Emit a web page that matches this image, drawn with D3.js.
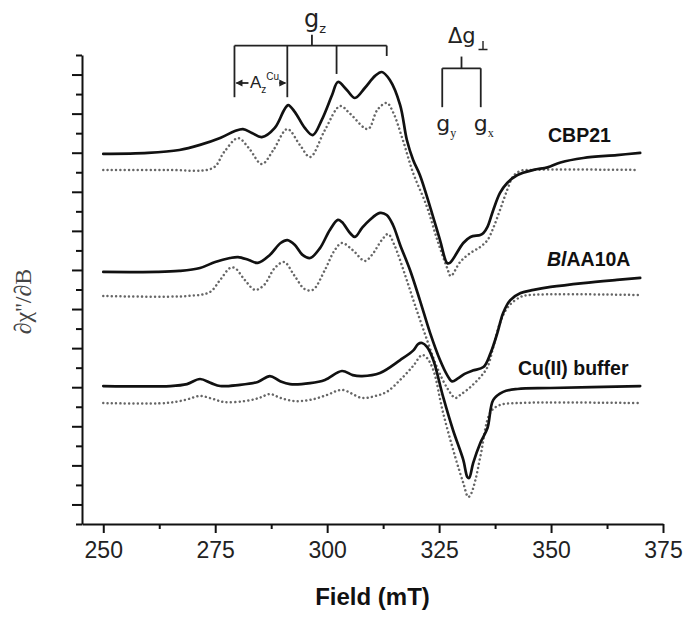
<!DOCTYPE html>
<html>
<head>
<meta charset="utf-8">
<script src="https://cdn.jsdelivr.net/npm/d3@7"></script>
<style>
  html, body { margin: 0; padding: 0; background: #fff; }
  svg { display: block; }
</style>
</head>
<body>
<svg id="chart" width="698" height="621"></svg>
<script>
// ---------- DATA (field in mT, signal in arbitrary axis units) ----------
const xTicks = [250, 275, 300, 325, 350, 375];
const xMinorTicks = [262.5, 287.5, 312.5, 337.5, 362.5];
const yTicks = d3.range(0, 25);          // 25 unlabeled ticks
const xLabel = "Field (mT)";
const yLabel = "\u2202\u03C7''/\u2202B";

const seriesLabels = ["CBP21", "BlAA10A", "Cu(II) buffer"];

const cbp21Exp = [[250,18.94],[260,18.99],[267,19.14],[271.6,19.40],[276.1,19.75],[279.4,20.11],[281.2,20.21],[283.2,20.01],[285.4,19.80],[288.3,20.27],[290.4,21.19],[291.3,21.44],[292.8,21.08],[295.0,20.27],[296.8,19.90],[298.8,20.68],[301.1,21.95],[302.4,22.62],[304.4,22.21],[306.2,21.80],[308.4,22.31],[310.7,22.93],[312.2,23.13],[314.0,22.72],[316.3,21.44],[317.8,19.65],[319.2,18.63],[320.7,17.86],[323.0,16.22],[325.2,14.53],[326.8,13.35],[327.4,13.36],[330.4,14.38],[332.0,14.69],[334.2,14.79],[334.9,14.89],[335.8,15.20],[337.1,16.07],[338.6,16.94],[340.2,17.45],[342.5,17.86],[346.1,18.12],[349.2,18.25],[352.1,18.50],[357.2,18.73],[364.7,18.88],[369.9,18.99]];
const cbp21Sim = [[250,18.12],[264,18.12],[274.5,18.22],[277.0,19.04],[280.1,19.75],[282.5,19.24],[285.4,18.42],[288.0,19.14],[291.1,20.21],[293.9,19.40],[296.2,18.78],[299.5,20.16],[302.9,21.39],[305.1,21.00],[309.1,20.21],[311.2,21.19],[313.3,21.55],[314.7,21.08],[316.9,19.65],[319.2,17.96],[322.3,16.22],[324.6,14.53],[326.8,13.10],[327.6,12.69],[329.7,13.41],[332.0,13.87],[334.2,14.18],[335.8,14.53],[337.1,15.15],[338.6,16.07],[340.2,17.09],[341.6,17.81],[343.2,18.07],[345.4,18.12],[369.4,18.12]];

const blExp = [[250,12.90],[262,12.90],[267,12.95],[271.6,13.10],[275,13.41],[278.3,13.61],[280.1,13.66],[282.5,13.51],[284.5,13.36],[287.2,13.77],[289.6,14.38],[291.1,14.53],[292.8,14.28],[294.5,13.77],[296.2,13.61],[298.4,14.12],[300.6,15.05],[302.4,15.56],[303.3,15.45],[305.1,14.89],[306.2,14.69],[307.8,15.15],[309.5,15.56],[311.8,15.92],[313.3,15.81],[314.7,15.30],[316.3,14.28],[318.5,13.00],[320.7,11.46],[323.0,9.77],[325.2,8.39],[326.8,7.62],[327.9,7.30],[329.2,7.45],[330.7,7.68],[332.5,7.85],[334.9,8.03],[336.5,8.75],[338.0,9.77],[339.3,10.80],[340.9,11.46],[343.2,11.82],[346.1,11.98],[349.9,12.13],[357.2,12.33],[364.7,12.49],[369.9,12.59]];
const blSim = [[250,11.67],[269,11.67],[273.8,11.87],[276.1,12.49],[278.3,13.10],[279.4,13.10],[281.6,12.49],[283.9,11.98],[285.9,12.23],[288.3,13.10],[290.4,13.41],[292.6,12.74],[295.0,12.02],[296.8,11.98],[299.5,13.00],[301.7,14.02],[303.3,14.38],[305.7,14.02],[308.4,13.46],[310.0,13.77],[312.2,14.53],[313.6,14.84],[315.0,14.28],[317.4,12.74],[319.6,11.21],[322.3,9.42],[324.6,7.98],[326.8,6.96],[328.6,6.45],[329.7,6.60],[332.0,7.01],[334.2,7.52],[335.8,8.03],[337.1,9.06],[338.6,10.29],[340.4,11.11],[343.2,11.62],[345.4,11.72],[369.4,11.72]];

const cuExp = [[250,7.06],[265,7.06],[268.7,7.16],[271.6,7.42],[274.1,7.21],[276.1,7.06],[280.1,7.11],[284.5,7.27],[287.2,7.57],[289.4,7.32],[291.7,7.16],[296.2,7.21],[299.5,7.37],[303.3,7.83],[305.7,7.62],[307.8,7.57],[311.8,7.73],[316.3,8.39],[319.3,8.90],[320.3,9.21],[321.2,9.26],[322.3,9.06],[323.7,8.39],[325.9,6.50],[328.1,4.81],[330.4,3.28],[331.3,2.41],[331.7,2.35],[332.6,3.12],[334.2,4.15],[335.8,4.91],[337.1,6.35],[339.3,6.76],[342.5,6.91],[349.9,6.96],[369.9,7.06]];
const cuSim = [[250,6.19],[264,6.19],[268.3,6.35],[271.6,6.55],[274.5,6.40],[277,6.24],[281.6,6.29],[284.8,6.45],[287.2,6.65],[289.6,6.45],[292.8,6.29],[296.2,6.35],[299.9,6.60],[303.3,6.86],[307.8,6.45],[310.7,6.55],[313.3,6.76],[316.3,7.37],[319.2,8.09],[321.2,8.65],[322.3,8.49],[323.7,7.88],[325.9,5.68],[328.6,3.43],[330.4,2.10],[331.5,1.38],[332.1,1.53],[333.1,2.25],[334.2,3.43],[336.5,5.73],[338.6,6.09],[342.5,6.19],[369.4,6.19]];

// annotation positions (fields in mT, heights in axis units)
const gzFields = [279.3, 291.1, 302.1, 313.3];
const gzLineEnds = [21.84, 21.84, 23.03, 23.95];
const gzBar = 24.48, gzStemTop = 25.03;
const gperpFields = [325.7, 334.3];
const gperpBar = 23.32, gperpStemTop = 23.92, gperpLineEnd = 21.33;

// ---------- SCALES ----------
const svg = d3.select("#chart");
const x = d3.scaleLinear().domain([245.25, 375]).range([82, 663]);
const y = d3.scaleLinear().domain([0, 24]).range([524, 55]);

// ---------- AXES ----------
const xAxis = svg.append("g").attr("transform", `translate(0,${y(0)})`)
  .call(d3.axisBottom(x).tickValues(xTicks).tickSize(9).tickSizeOuter(0).tickPadding(9));
xAxis.select(".domain").attr("stroke", "#111").attr("stroke-width", 2);
xAxis.selectAll(".tick line").attr("stroke", "#111").attr("stroke-width", 2);
xAxis.selectAll(".tick text").attr("font-family", "Liberation Sans, Arial, sans-serif")
  .attr("font-size", 23).attr("fill", "#222");

const xMinor = svg.append("g").attr("transform", `translate(0,${y(0)})`)
  .call(d3.axisBottom(x).tickValues(xMinorTicks).tickSize(5).tickFormat(""));
xMinor.select(".domain").remove();
xMinor.selectAll(".tick line").attr("stroke", "#111").attr("stroke-width", 2);

const yAxis = svg.append("g").attr("transform", `translate(${x.range()[0]},0)`)
  .call(d3.axisLeft(y).tickValues(yTicks).tickSizeOuter(0).tickFormat(""));
yAxis.select(".domain").attr("stroke", "#111").attr("stroke-width", 2);
yAxis.selectAll(".tick line").attr("stroke", "#111").attr("stroke-width", 2)
  .attr("x2", d => (d % 2 === 1 ? -10 : -6));

// axis titles
svg.append("text").attr("x", (x.range()[0] + x.range()[1]) / 2).attr("y", 605)
  .attr("text-anchor", "middle").attr("font-family", "Liberation Sans, Arial, sans-serif")
  .attr("font-weight", "bold").attr("font-size", 24).attr("fill", "#111").text(xLabel);

svg.append("text").attr("transform", `translate(31,${(y.range()[0] + y.range()[1]) / 2 + 12}) rotate(-90)`)
  .attr("text-anchor", "middle").attr("font-family", "Liberation Serif, Times New Roman, serif")
  .attr("font-size", 24).attr("fill", "#444").text(yLabel);

// ---------- LINES ----------
const line = d3.line().x(d => x(d[0])).y(d => y(d[1])).curve(d3.curveCatmullRom.alpha(0.5));

const sims = [cbp21Sim, blSim, cuSim];
const exps = [cbp21Exp, blExp, cuExp];

svg.append("g").selectAll("path").data(sims).join("path")
  .attr("d", line).attr("fill", "none").attr("stroke", "#666")
  .attr("stroke-width", 2.5).attr("stroke-linecap", "round").attr("stroke-dasharray", "0.01 4.3");

svg.append("g").selectAll("path").data(exps).join("path")
  .attr("d", line).attr("fill", "none").attr("stroke", "#111")
  .attr("stroke-width", 2.7).attr("stroke-linejoin", "round").attr("stroke-linecap", "round");

// ---------- SERIES LABELS ----------
const lab = svg.append("g").attr("font-family", "Liberation Sans, Arial, sans-serif")
  .attr("font-weight", "bold").attr("font-size", 19.5).attr("fill", "#111");
lab.append("text").attr("x", 548).attr("y", 142).text(seriesLabels[0]);
const bl = lab.append("text").attr("x", 547).attr("y", 266);
bl.append("tspan").attr("font-style", "italic").text(seriesLabels[1].slice(0, 2));
bl.append("tspan").text(seriesLabels[1].slice(2));
lab.append("text").attr("x", 518).attr("y", 375).text(seriesLabels[2]);

// ---------- ANNOTATIONS ----------
const ann = svg.append("g").attr("stroke", "#222").attr("stroke-width", 1.8).attr("fill", "none");
// g_z bracket
ann.append("line").attr("x1", x(gzFields[0])).attr("x2", x(gzFields[3]))
  .attr("y1", y(gzBar)).attr("y2", y(gzBar));
ann.append("line").attr("x1", x((gzFields[1] + gzFields[2]) / 2)).attr("x2", x((gzFields[1] + gzFields[2]) / 2))
  .attr("y1", y(gzBar)).attr("y2", y(gzStemTop));
gzFields.forEach((f, i) => {
  ann.append("line").attr("x1", x(f)).attr("x2", x(f)).attr("y1", y(gzBar)).attr("y2", y(gzLineEnds[i]));
});
// g_perp bracket
const gpMid = (gperpFields[0] + gperpFields[1]) / 2;
ann.append("line").attr("x1", x(gperpFields[0])).attr("x2", x(gperpFields[1]))
  .attr("y1", y(gperpBar)).attr("y2", y(gperpBar));
ann.append("line").attr("x1", x(gpMid)).attr("x2", x(gpMid)).attr("y1", y(gperpBar)).attr("y2", y(gperpStemTop));
gperpFields.forEach(f => {
  ann.append("line").attr("x1", x(f)).attr("x2", x(f)).attr("y1", y(gperpBar)).attr("y2", y(gperpLineEnd));
});
// A_z arrows
const ay = 83;
const xa0 = x(gzFields[0]), xa1 = x(gzFields[1]);
ann.append("line").attr("x1", xa0 + 2).attr("x2", xa0 + 14).attr("y1", ay).attr("y2", ay);
ann.append("line").attr("x1", xa1 - 8).attr("x2", xa1 - 2).attr("y1", ay).attr("y2", ay);
svg.append("path").attr("fill", "#222")
  .attr("d", `M${xa0 + 1},${ay} l7,-3.5 l0,7 Z M${xa1 - 1},${ay} l-7,-3.5 l0,7 Z`);

const t = svg.append("g").attr("font-family", "DejaVu Sans, sans-serif").attr("fill", "#222");
// g_z
const gz = t.append("text").attr("x", 304).attr("y", 27).attr("font-size", 24);
gz.append("tspan").text("g");
gz.append("tspan").attr("font-size", 13).attr("dy", 6).text("z");
// A_z^Cu
const az = t.append("text").attr("x", 250).attr("y", 88).attr("font-size", 17)
  .attr("font-family", "Liberation Sans, Arial, sans-serif");
az.append("tspan").text("A");
az.append("tspan").attr("font-size", 10).attr("dy", 5).text("z");
az.append("tspan").attr("font-size", 10).attr("dy", -13).attr("dx", 0).text("Cu");
// Delta g perp (perp sign drawn as lines)
t.append("text").attr("x", 448).attr("y", 43).attr("font-size", 21).text("\u0394g");
ann.append("path").attr("stroke-width", 1.4).attr("d", "M478.5,49.5 H487.5 M483,41 V49.5");
// g_y, g_x
const gy = t.append("text").attr("x", x(gperpFields[0]) - 6).attr("y", 131).attr("font-size", 22);
gy.append("tspan").text("g");
gy.append("tspan").attr("font-size", 12).attr("dy", 6).attr("font-family", "Liberation Serif, serif").text("y");
const gx = t.append("text").attr("x", x(gperpFields[1]) - 7).attr("y", 131).attr("font-size", 22);
gx.append("tspan").text("g");
gx.append("tspan").attr("font-size", 12).attr("dy", 6).attr("font-family", "Liberation Serif, serif").text("x");
</script>
</body>
</html>
